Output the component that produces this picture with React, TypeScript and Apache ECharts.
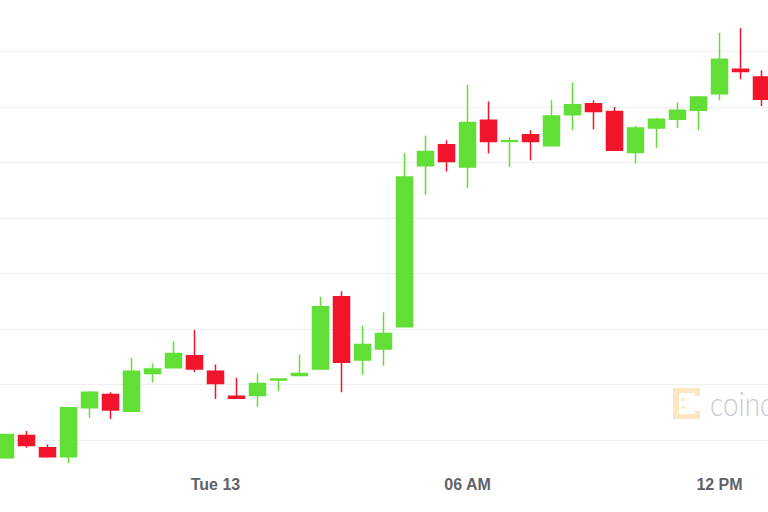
import React, { useEffect, useRef } from "react";
import * as echarts from "echarts";

const times = [
  "19:00", "19:30", "20:00", "20:30", "21:00", "21:30", "22:00", "22:30", "23:00", "23:30",
  "00:00", "00:30", "01:00", "01:30", "02:00", "02:30", "03:00", "03:30", "04:00", "04:30",
  "05:00", "05:30", "06:00", "06:30", "07:00", "07:30", "08:00", "08:30", "09:00", "09:30",
  "10:00", "10:30", "11:00", "11:30", "12:00", "12:30", "13:00",
];
const tickTimes = ["00:00", "06:00", "12:00"];
const tickLabels = ["Tue 13", "06 AM", "12 PM"];

const opens = [
  11284, 11304, 11293, 11285, 11329, 11341, 11326, 11360, 11365, 11376,
  11362, 11339.4, 11340, 11354, 11358, 11364, 11429, 11372, 11382, 11402,
  11547, 11566, 11546, 11588, 11568.9, 11575, 11565, 11593, 11603, 11596,
  11559, 11581, 11589, 11597, 11612, 11634, 11627,
];
const closes = [
  11305, 11295, 11285, 11329, 11343, 11327, 11362, 11364, 11378, 11364,
  11351, 11337.6, 11351, 11355, 11360, 11420, 11370, 11386, 11396, 11537,
  11560, 11551, 11586, 11569, 11569.6, 11569, 11592, 11602, 11596, 11561,
  11581, 11589, 11597, 11609, 11643, 11632, 11607,
];
const lows = [
  11283, 11293, 11284, 11279, 11320, 11319, 11326, 11352, 11365, 11361,
  11337, 11337, 11330, 11344, 11358, 11364, 11343, 11359, 11367, 11402,
  11521, 11542, 11527, 11558, 11546, 11552, 11565, 11579, 11580, 11561,
  11549, 11563, 11581, 11579, 11606, 11625, 11601,
];
const highs = [
  11305, 11308, 11296, 11329, 11344, 11343, 11374, 11369, 11389, 11399,
  11368, 11356, 11360, 11355.5, 11377, 11429, 11434, 11403, 11415, 11558,
  11574, 11570, 11620, 11605, 11573, 11579, 11606, 11622, 11606, 11600,
  11583, 11590, 11604, 11610, 11667, 11671, 11633,
];

const yMin = 11300;
const yMax = 11700;
const yStep = 50;

// chart container is shifted so that the plot is cropped like the reference
const OX = 5;
const OY = 4;

export default function App() {
  const ref = useRef<HTMLDivElement>(null);
  useEffect(() => {
    if (!ref.current) return;
    const chart = echarts.init(ref.current, undefined, { renderer: "svg" });
    const data = times.map((_, i) => [opens[i], closes[i], lows[i], highs[i]]);
    const logoColor = "#fde7c2";
    const sq = (x: number, y: number, w: number, h: number) => ({
      type: "rect",
      shape: { x: x + OX, y: y + OY, width: w, height: h },
      style: { fill: logoColor },
      silent: true,
    });
    chart.setOption({
      animation: false,
      backgroundColor: "#ffffff",
      grid: { left: 0, top: 0, width: 777, height: 444 },
      xAxis: {
        type: "category",
        data: times,
        boundaryGap: true,
        axisLine: { show: false },
        axisTick: { show: false },
        splitLine: { show: false },
        axisLabel: {
          interval: (_idx: number, val: string) => tickTimes.indexOf(val) >= 0,
          formatter: (val: string) => {
            const k = tickTimes.indexOf(val);
            return k >= 0 ? tickLabels[k] : "";
          },
          margin: 36,
          color: "#5f6368",
          fontSize: 16,
          fontWeight: "bold",
          fontFamily: "Liberation Sans, Arial, sans-serif",
        },
      },
      yAxis: {
        type: "value",
        min: yMin,
        max: yMax,
        interval: yStep,
        axisLabel: { show: false },
        axisLine: { show: false },
        axisTick: { show: false },
        splitLine: { show: true, lineStyle: { color: "#eceef1", width: 1 } },
      },
      graphic: [
        {
          type: "group",
          z: -1,
          children: [
            sq(673, 388, 6, 31),
            sq(673, 388, 27, 5),
            sq(673, 414, 27, 5),
            sq(695, 388, 5, 8),
            sq(695, 411, 5, 8),
            sq(682, 398, 3, 3),
            sq(682, 406, 3, 3),
            {
              type: "text",
              x: 710 + OX,
              y: 386 + OY,
              scaleX: 0.82,
              silent: true,
              style: {
                text: "coindesk",
                fill: "#c9ccd2",
                fontSize: 34,
                fontWeight: 300,
                fontFamily: "Lato, Open Sans, sans-serif",
              },
            },
          ],
        },
      ],
      series: [
        {
          type: "candlestick",
          data,
          barWidth: 16,
          clip: false,
          itemStyle: {
            color: "#62df36",
            color0: "#f2142a",
            borderColor: "#62df36",
            borderColor0: "#f2142a",
            borderWidth: 1.5,
          },
        },
      ],
    });
    return () => chart.dispose();
  }, []);
  return (
    <div
      ref={ref}
      style={{ position: "fixed", left: -OX, top: -OY, width: 777, height: 516, background: "#fff" }}
    />
  );
}
